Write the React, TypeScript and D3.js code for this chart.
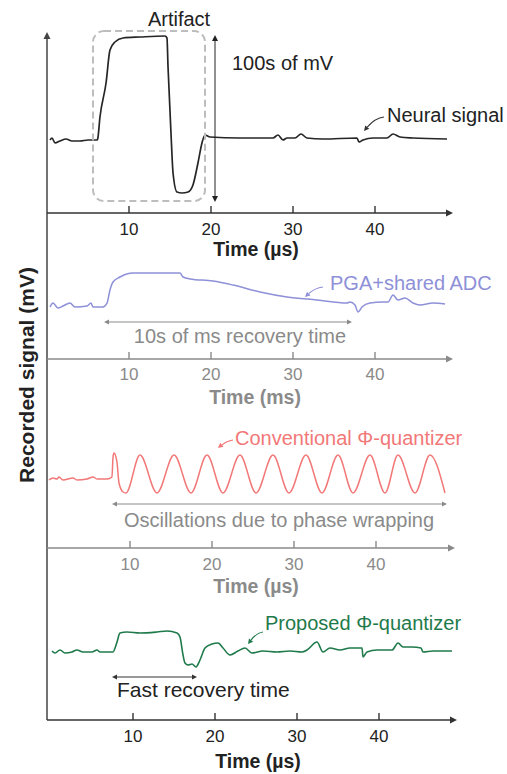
import React from "react";
import * as d3 from "d3";

// ---------- DATA ----------
const tickValues = [10, 20, 30, 40];

// Panel 1: raw recording with artifact (time µs, signal units)
const rawT = [0.37,0.61,0.98,1.59,2.32,3.05,4.02,5.0,6.1,6.18,6.46,7.2,7.68,8.29,9.27,11.34,14.39,14.63,14.76,15.12,15.37,15.85,16.46,17.2,17.8,18.41,18.9,19.27,19.88,23.5,27.56,28.17,28.78,29.27,30.24,30.98,31.7,33.66,37.8,38.05,38.54,39.76,41.46,42.2,43.05,44.63,48.78];
const rawV = [0,2,-3,-1,1,-1,-1,0,0,1,23,57,90,98,102,103,104,102,73,7,-33,-52,-53,-52,-45,-23,-3,5,3,2,2,5,0,2,2,6,2,1,2,-2,0,2,2,6,3,2,1];

// Panel 2: PGA + shared ADC
const pgaT = [0.37,0.73,1.34,1.95,2.8,3.41,4.88,5.37,5.61,6.83,7.32,7.68,8.05,8.9,10.49,12.56,16.22,16.59,17.44,20.24,22.68,25.98,29.27,32.93,36.59,36.95,37.56,37.93,38.41,39.39,40.98,41.59,42.2,42.8,43.66,44.63,45.49,47.07,48.54];
const pgaV = [0,4,-1,1,4,0,1,4,0,0,4,17,25,30,34,34,34,30,28,26,22,15,10,7,4,5,2,-5,0,4,5,5,12,7,9,4,2,4,3];

// Panel 3: conventional phase quantizer
const convT = [0.12,0.61,1.1,1.34,1.83,3.05,3.54,4.76,5.49,5.98,7.2,7.8,7.93,8.05,8.41,8.66,9.15,9.51,11.22,13.29,15.37,17.44,19.39,21.34,23.41,25.37,27.44,29.39,31.46,33.41,35.37,37.2,39.27,41.1,42.68,44.76,46.59,48.41];
const convV = [0,2,1,3,0,2,0,1,3,1,1,3,23,27,18,-3,-12,-13,25,-13,25,-13,25,-13,25,-13,25,-13,25,-13,25,-13,25,-13,25,-13,25,-13];

// Panel 4: proposed phase quantizer
const propT = [0.12,0.49,1.1,1.71,2.56,3.17,3.9,5.0,5.61,5.98,7.56,8.05,8.41,9.27,10.85,12.93,14.15,15.37,15.73,16.1,16.34,16.71,17.2,17.68,18.17,18.78,19.63,20.37,20.98,21.83,22.8,23.66,24.51,25.85,27.56,29.15,30.61,31.22,32.44,33.17,34.02,35.24,36.46,37.93,38.05,38.54,39.76,41.59,42.32,42.93,44.02,45.12,45.37,46.59,48.9];
const propV = [1,-1,2,-1,0,2,0,0,2,0,0,10,19,20,19,20,21,19,15,-3,-11,-13,-12,-15,-8,4,8,9,4,-3,1,4,-1,1,0,1,0,2,10,0,4,2,4,4,-5,0,2,2,9,5,5,4,0,1,1];

// ---------- LAYOUT ----------
const FONT = "'Liberation Sans', Arial, Helvetica, sans-serif";
const AX_LEFT = 47;
const PX_PER_US = 8.2;

type Panel = {
  t: number[]; v: number[]; color: string; base: number; x0: number;
  axisY: number; axisEnd: number; axisColor: string; labelColor: string;
  labelDy: number; title: string; titleY: number; titleX: number; titleColor: string;
  strokeW: number;
};

const panels: Panel[] = [
  { t: rawT, v: rawV, color: "#262626", base: 140, x0: 47, axisY: 213, axisEnd: 453, axisColor: "#333", labelColor: "#222", labelDy: 22, title: "Time (µs)", titleY: 256, titleX: 256, titleColor: "#222", strokeW: 1.7 },
  { t: pgaT, v: pgaV, color: "#8e90d8", base: 307, x0: 47, axisY: 359, axisEnd: 453, axisColor: "#8a8a8a", labelColor: "#8a8a8a", labelDy: 21, title: "Time (ms)", titleY: 404, titleX: 255, titleColor: "#8a8a8a", strokeW: 1.5 },
  { t: convT, v: convV, color: "#f27878", base: 480, x0: 48, axisY: 548, axisEnd: 455, axisColor: "#8a8a8a", labelColor: "#8a8a8a", labelDy: 22, title: "Time (µs)", titleY: 593, titleX: 256, titleColor: "#8a8a8a", strokeW: 1.5 },
  { t: propT, v: propV, color: "#1f7a4b", base: 652, x0: 51, axisY: 720, axisEnd: 457, axisColor: "#333", labelColor: "#222", labelDy: 22, title: "Time (µs)", titleY: 768, titleX: 258, titleColor: "#222", strokeW: 1.6 },
];

function Arrowhead({ x, y, dir, color, size = 6 }: { x: number; y: number; dir: "right" | "left" | "up" | "down"; color: string; size?: number }) {
  const s = size, w = size * 0.5;
  let pts = "";
  if (dir === "right") pts = `${x},${y} ${x - s},${y - w} ${x - s},${y + w}`;
  if (dir === "left") pts = `${x},${y} ${x + s},${y - w} ${x + s},${y + w}`;
  if (dir === "up") pts = `${x},${y} ${x - w},${y + s} ${x + w},${y + s}`;
  if (dir === "down") pts = `${x},${y} ${x - w},${y - s} ${x + w},${y - s}`;
  return <polygon points={pts} fill={color} />;
}

function HDouble({ x1, x2, y, color }: { x1: number; x2: number; y: number; color: string }) {
  return (
    <g>
      <line x1={x1 + 3} x2={x2 - 3} y1={y} y2={y} stroke={color} strokeWidth={1} />
      <Arrowhead x={x1} y={y} dir="left" color={color} size={5} />
      <Arrowhead x={x2} y={y} dir="right" color={color} size={5} />
    </g>
  );
}

function CurvedPointer({ x1, y1, x2, y2, color }: { x1: number; y1: number; x2: number; y2: number; color: string }) {
  const cx = (x1 + x2) / 2 + 1;
  const cy = Math.min(y1, y2) + 1;
  const ang = Math.atan2(y2 - cy, x2 - cx);
  const s = 5, w = 2.6;
  const bx = x2 - s * Math.cos(ang), by = y2 - s * Math.sin(ang);
  const px = -Math.sin(ang) * w, py = Math.cos(ang) * w;
  return (
    <g>
      <path d={`M${x1},${y1} Q${cx},${cy} ${bx},${by}`} fill="none" stroke={color} strokeWidth={1.1} />
      <polygon points={`${x2},${y2} ${bx + px},${by + py} ${bx - px},${by - py}`} fill={color} />
    </g>
  );
}

export default function App() {
  return (
    <svg width={507} height={774} style={{ position: "absolute", left: 0, top: 0, background: "#fff" }} fontFamily={FONT}>
      {/* vertical axis */}
      <line x1={AX_LEFT} x2={AX_LEFT} y1={38} y2={720} stroke="#444" strokeWidth={1.5} />
      <Arrowhead x={AX_LEFT} y={32} dir="up" color="#444" size={7} />
      <text transform={`translate(34,375) rotate(-90)`} textAnchor="middle" fontSize={21} fontWeight="bold" fill="#222">
        Recorded signal (mV)
      </text>

      {panels.map((p, i) => {
        const x = d3.scaleLinear().domain([0, 10]).range([p.x0, p.x0 + 10 * PX_PER_US]);
        const y = d3.scaleLinear().domain([-50, 100]).range([p.base + 50, p.base - 100]);
        const line = d3.line<number>().x((_, k) => x(p.t[k])).y((d) => y(d)).curve(d3.curveMonotoneX);
        return (
          <g key={i}>
            <path d={line(p.v) || ""} fill="none" stroke={p.color} strokeWidth={p.strokeW} strokeLinejoin="round" />
            <line x1={AX_LEFT} x2={p.axisEnd - 4} y1={p.axisY} y2={p.axisY} stroke={p.axisColor} strokeWidth={1.4} />
            <Arrowhead x={p.axisEnd} y={p.axisY} dir="right" color={p.axisColor} size={7} />
            {tickValues.map((tv) => (
              <g key={tv}>
                <line x1={x(tv)} x2={x(tv)} y1={p.axisY} y2={p.axisY - 7} stroke={p.axisColor} strokeWidth={1.4} />
                <text x={x(tv)} y={p.axisY + p.labelDy} textAnchor="middle" fontSize={17} fill={p.labelColor}>
                  {tv}
                </text>
              </g>
            ))}
            <text x={p.titleX} y={p.titleY} textAnchor="middle" fontSize={19.5} fontWeight="bold" fill={p.titleColor}>
              {p.title}
            </text>
          </g>
        );
      })}

      {/* Panel 1 annotations */}
      <rect x={93} y={31} width={112} height={170} rx={11} ry={11} fill="none" stroke="#bdbdbd" strokeWidth={2} strokeDasharray="7 4" />
      <text x={179} y={26} textAnchor="middle" fontSize={20} fill="#222">Artifact</text>
      <line x1={215} x2={215} y1={40} y2={197} stroke="#222" strokeWidth={1} />
      <Arrowhead x={215} y={35} dir="up" color="#222" size={6} />
      <Arrowhead x={215} y={202} dir="down" color="#222" size={6} />
      <text x={232} y={70} fontSize={20} fill="#222">100s of mV</text>
      <text x={387} y={122} fontSize={20} fill="#222">Neural signal</text>
      <CurvedPointer x1={384} y1={117} x2={364} y2={131} color="#333" />

      {/* Panel 2 annotations */}
      <text x={330} y={290} fontSize={20} fill="#8e90d8">PGA+shared ADC</text>
      <CurvedPointer x1={323} y1={287} x2={305} y2={297} color="#8e90d8" />
      <HDouble x1={104} x2={352} y={322} color="#8a8a8a" />
      <text x={240} y={343} textAnchor="middle" fontSize={20} fill="#8a8a8a">10s of ms recovery time</text>

      {/* Panel 3 annotations */}
      <text x={235} y={445} fontSize={20} fill="#f27878">Conventional Φ-quantizer</text>
      <CurvedPointer x1={233} y1={440} x2={218} y2={448} color="#f27878" />
      <HDouble x1={112} x2={447} y={504} color="#8a8a8a" />
      <text x={279} y={527} textAnchor="middle" fontSize={20} fill="#8a8a8a">Oscillations due to phase wrapping</text>

      {/* Panel 4 annotations */}
      <text x={265} y={630} fontSize={20} fill="#1f7a4b">Proposed Φ-quantizer</text>
      <CurvedPointer x1={263} y1={632} x2={248} y2={644} color="#1f7a4b" />
      <HDouble x1={112} x2={197} y={677} color="#333" />
      <text x={117} y={697} fontSize={21} fill="#222">Fast recovery time</text>
    </svg>
  );
}
